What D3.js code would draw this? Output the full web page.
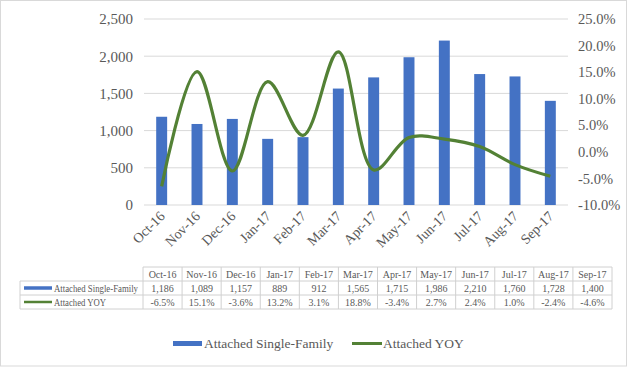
<!DOCTYPE html>
<html>
<head>
<meta charset="utf-8">
<script src="https://cdn.jsdelivr.net/npm/d3@7"></script>
<style>
  body { margin: 0; background: #fff; }
  svg { display: block; }
</style>
</head>
<body>
<svg id="chart" width="630" height="368" font-family="Liberation Serif"></svg>
<script>
// Data
const months = ["Oct-16", "Nov-16", "Dec-16", "Jan-17", "Feb-17", "Mar-17",
    "Apr-17", "May-17", "Jun-17", "Jul-17", "Aug-17", "Sep-17"];
const attached = [1186, 1089, 1157, 889, 912, 1565, 1715, 1986, 2210, 1760, 1728, 1400];
const yoy = [-6.5, 15.1, -3.6, 13.2, 3.1, 18.8, -3.4, 2.7, 2.4, 1.0, -2.4, -4.6];
const leftTicks = [0, 500, 1000, 1500, 2000, 2500];
const rightTicks = [-10, -5, 0, 5, 10, 15, 20, 25];
const seriesNames = ["Attached Single-Family", "Attached YOY"];

const W = 630, H = 368;
const FONT = "Liberation Serif";
const blue = "#4472c4", green = "#538135", grid = "#d9d9d9", txt = "#595959";

const svg = d3.select("#chart");

// outer frame
svg.append("rect")
    .attr("x", 0.5).attr("y", 0.5)
    .attr("width", W - 4).attr("height", H - 2.5)
    .attr("fill", "#fff").attr("stroke", "#d9d9d9");

// scales
const x = d3.scaleBand().domain(months).range([144, 568])
    .paddingInner(0.69).paddingOuter(0.345);
const yL = d3.scaleLinear().domain([0, 2500]).range([205, 19]);
const yR = d3.scaleLinear().domain([-10, 25]).range([205, 19]);

// gridlines
svg.append("g").selectAll("line")
    .data(leftTicks)
    .join("line")
    .attr("x1", 144).attr("x2", 568)
    .attr("y1", d => yL(d)).attr("y2", d => yL(d))
    .attr("stroke", grid).attr("stroke-width", 1);

// left axis
const axL = svg.append("g")
    .attr("transform", "translate(144,0)")
    .call(d3.axisLeft(yL).tickValues(leftTicks).tickFormat(d3.format(",")).tickSize(0).tickPadding(11));
axL.attr("font-family", FONT);
axL.select(".domain").remove();
axL.selectAll("text").attr("font-size", 15).attr("fill", txt);

// right axis
const axR = svg.append("g")
    .attr("transform", "translate(568,0)")
    .call(d3.axisRight(yR).tickValues(rightTicks).tickFormat(d => d.toFixed(1) + "%").tickSize(0).tickPadding(10));
axR.attr("font-family", FONT);
axR.select(".domain").remove();
axR.selectAll("text").attr("font-size", 14.5).attr("fill", txt);

// bars
svg.append("g").selectAll("rect")
    .data(months.map((m, i) => ({m, v: attached[i]})))
    .join("rect")
    .attr("x", d => x(d.m))
    .attr("y", d => yL(d.v))
    .attr("width", x.bandwidth())
    .attr("height", d => yL(0) - yL(d.v))
    .attr("fill", blue);

// yoy line
const line = d3.line()
    .x((d, i) => x(months[i]) + x.bandwidth() / 2)
    .y(d => yR(d))
    .curve(d3.curveCatmullRom.alpha(0.5));
svg.append("path")
    .datum(yoy)
    .attr("d", line)
    .attr("fill", "none")
    .attr("stroke", green)
    .attr("stroke-width", 3.2);

// x labels (rotated)
svg.append("g").selectAll("text")
    .data(months)
    .join("text")
    .attr("transform", d => `translate(${x(d) + x.bandwidth() / 2 + 4},${217}) rotate(-45)`)
    .attr("text-anchor", "end")
    .attr("font-family", FONT)
    .attr("font-size", 14)
    .attr("fill", txt)
    .text(d => d);

// data table
const tx = d3.scaleBand().domain(months).range([143, 612]);
const rows = [267, 281, 295, 309];
const tbl = svg.append("g").attr("font-family", FONT);
const tStroke = "#d0d0d0";
// horizontal lines
tbl.append("line").attr("x1", 143).attr("x2", 612).attr("y1", rows[0]).attr("y2", rows[0]).attr("stroke", tStroke);
rows.slice(1).forEach(y => {
    tbl.append("line").attr("x1", 20).attr("x2", 612).attr("y1", y).attr("y2", y).attr("stroke", tStroke);
});
// vertical lines
tbl.append("line").attr("x1", 20).attr("x2", 20).attr("y1", rows[1]).attr("y2", rows[3]).attr("stroke", tStroke);
months.forEach(m => {
    tbl.append("line").attr("x1", tx(m)).attr("x2", tx(m)).attr("y1", rows[0]).attr("y2", rows[3]).attr("stroke", tStroke);
});
tbl.append("line").attr("x1", 612).attr("x2", 612).attr("y1", rows[0]).attr("y2", rows[3]).attr("stroke", tStroke);

const cellText = (vals, rowIdx, fmt) => {
    tbl.append("g").selectAll("text")
        .data(vals)
        .join("text")
        .attr("x", (d, i) => tx(months[i]) + tx.bandwidth() / 2)
        .attr("y", (rows[rowIdx] + rows[rowIdx + 1]) / 2 + 3.5)
        .attr("text-anchor", "middle")
        .attr("font-size", 10)
        .attr("fill", txt)
        .text(fmt);
};
cellText(months, 0, d => d);
cellText(attached, 1, d3.format(","));
cellText(yoy, 2, d => d.toFixed(1) + "%");

// table row labels with swatches
const labelLen = [84, 52];
seriesNames.forEach((name, i) => {
    const yMid = (rows[i + 1] + rows[i + 2]) / 2;
    tbl.append("line")
        .attr("x1", 24).attr("x2", 52).attr("y1", yMid).attr("y2", yMid)
        .attr("stroke", i === 0 ? blue : green).attr("stroke-width", i === 0 ? 3.5 : 2.5);
    tbl.append("text")
        .attr("x", 54).attr("y", yMid + 3.5)
        .attr("font-size", 10).attr("fill", txt)
        .attr("textLength", labelLen[i]).attr("lengthAdjust", "spacingAndGlyphs")
        .text(name);
});

// legend
const lg = svg.append("g").attr("font-family", FONT);
lg.append("rect").attr("x", 173).attr("y", 341).attr("width", 29).attr("height", 5).attr("fill", blue);
lg.append("text").attr("x", 204).attr("y", 348).attr("font-size", 13.5).attr("fill", txt).text(seriesNames[0]);
lg.append("line").attr("x1", 352).attr("x2", 382).attr("y1", 343.5).attr("y2", 343.5).attr("stroke", green).attr("stroke-width", 3);
lg.append("text").attr("x", 383).attr("y", 348).attr("font-size", 13.5).attr("fill", txt).text(seriesNames[1]);
</script>
</body>
</html>
